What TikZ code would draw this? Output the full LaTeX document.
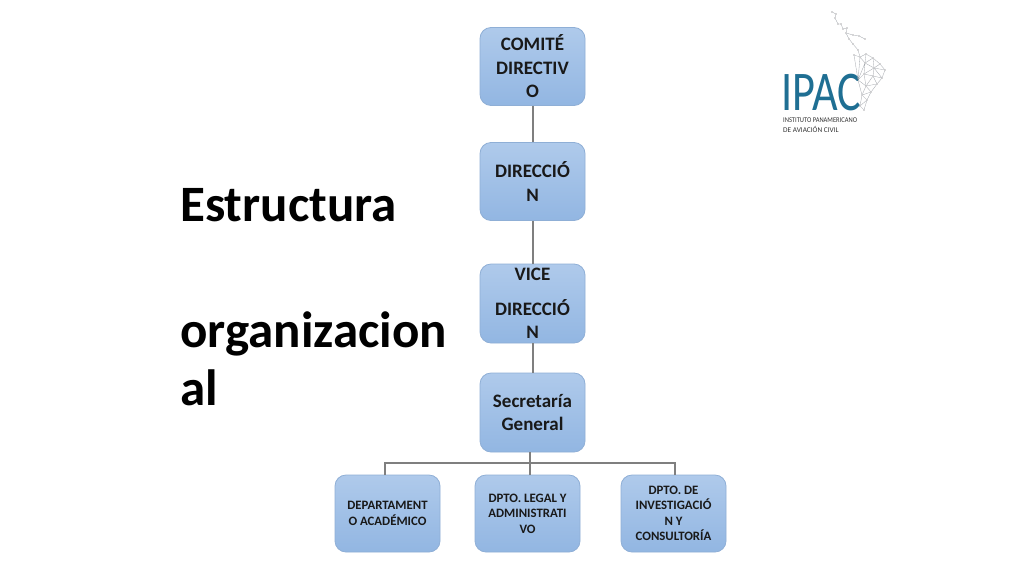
\documentclass[tikz,border=0pt]{standalone}
\usepackage{fontspec}
\setmainfont{Carlito}
\definecolor{boxtop}{HTML}{AFCAEB}
\definecolor{boxbot}{HTML}{92B6E2}
\definecolor{boxline}{HTML}{8FAFD6}
\definecolor{conn}{HTML}{7F7F7F}
\definecolor{logoblue}{HTML}{1F6F93}
\definecolor{logogrey}{HTML}{8A8F96}
\tikzset{
 orgbox/.style={draw=boxline,line width=0.8pt,rounded corners=11pt,top color=boxtop,bottom color=boxbot,
   minimum width=105pt,minimum height=78pt,inner sep=1pt,align=flush center,text=black!90},
 bigbox/.style={orgbox,font=\fontsize{19}{23.5}\selectfont\bfseries,text width=103pt},
 smallbox/.style={orgbox,font=\fontsize{12.8}{15.5}\selectfont\bfseries,text width=103pt},
 wire/.style={draw=conn,line width=2pt},
 title/.style={font=\fontsize{51}{58}\selectfont\bfseries,text=black,align=left,inner sep=0pt,anchor=north west},
 net/.style={draw=logogrey!80,line width=0.3pt},
 dot/.style={fill=logogrey!60!black,circle,inner sep=0pt,minimum size=1.4pt}
}
\begin{document}
\begin{tikzpicture}[x=1pt,y=-1pt]
\useasboundingbox (0,0) rectangle (1024,576);
\fill[white] (0,0) rectangle (1024,576);
\coordinate (bus) at (530,463);
\coordinate (busl) at (385,463);
\coordinate (busr) at (675,463);
\node[bigbox] (a) at (532.5,66.5) {COMITÉ\\DIRECTIV\\O};
\node[bigbox] (b) at (532.5,181.5) {DIRECCIÓ\\N};
\node[bigbox,minimum height=79pt] (c) at (532.5,303.5) {VICE\\[11pt]DIRECCIÓ\\N};
\node[bigbox,minimum height=79pt] (d) at (532.5,412.5) {Secretaría\\General};
\node[smallbox,minimum height=77pt] (e) at (387.5,513.5) {DEPARTAMENT\\O ACADÉMICO};
\node[smallbox,minimum height=77pt] (f) at (527.5,513.5) {DPTO. LEGAL Y\\ADMINISTRATI\\VO};
\node[smallbox,minimum height=77pt] (g) at (673.5,513.5) {DPTO. DE\\INVESTIGACIÓ\\N Y\\CONSULTORÍA};
\draw[wire] (a.south) -- (b.north);
\draw[wire] (b.south) -- (c.north);
\draw[wire] (c.south) -- (d.north);
\draw[wire] (bus |- d.south) -- (bus |- f.north);
\draw[wire] (busl |- e.north) -- (busl) -- (busr) -- (busr |- g.north);
\node[title] (t) at (180,188) {Estructura\\[68pt]organizacion\\al};
% logo
\node[inner sep=0pt,text=logoblue,anchor=west] (ipac) at (781,93) {\fontsize{56}{56}\selectfont\scalebox{0.79}[1]{IPAC}};
\node[inner sep=0pt,text=black!80,anchor=west] (inst1) at (783,120) {\fontsize{7.3}{8}\selectfont\scalebox{0.89}[1]{INSTITUTO PANAMERICANO}};
\node[inner sep=0pt,text=black!80,anchor=west] (inst2) at (783,129) {\fontsize{7.3}{8}\selectfont\scalebox{1}[1]{DE AVIACIÓN CIVIL}};
\foreach \n/\x/\y in {p1/832/12,p2/835/18,p3/838/24,p4/843/29,p5/846/33,p6/849/39,p7/853/44,p8/858/50,p9/853/35,p10/859/36,p11/865/39,p12/854/55,p13/860/57,p14/866/54,p15/873/58,p16/880/64,p17/885/70,p18/865/63,p19/874/68,p20/864/74,p21/873/76,p22/882/78,p23/877/84,p24/866/86,p25/858/80,p26/871/92,p27/862/95,p28/867/100,p29/860/106,p30/864/110,p31/836/14,p32/841/24,p33/847/28}{
 \node[dot] (\n) at (\x,\y) {};
}
\draw[net] (p1)--(p31)--(p2)--(p3)--(p32)--(p4)--(p33)--(p5)--(p6)--(p7)--(p8)--(p13)--(p12);
\draw[net] (p9)--(p10)--(p11) (p5)--(p9);
\draw[net] (p13)--(p14)--(p15)--(p16)--(p17)--(p22)--(p23)--(p26)--(p28)--(p30)--(p29)--(p27)--(p25)--(p12);
\draw[net] (p14)--(p18)--(p15)--(p19)--(p16) (p18)--(p19)--(p17) (p13)--(p18)--(p20)--(p19)--(p21)--(p20)--(p25)--(p13) (p21)--(p22)--(p19) (p21)--(p23)--(p24)--(p21) (p20)--(p24)--(p25) (p24)--(p26)--(p27)--(p24) (p27)--(p28)--(p29) (p18)--(p25);
\end{tikzpicture}
\end{document}
